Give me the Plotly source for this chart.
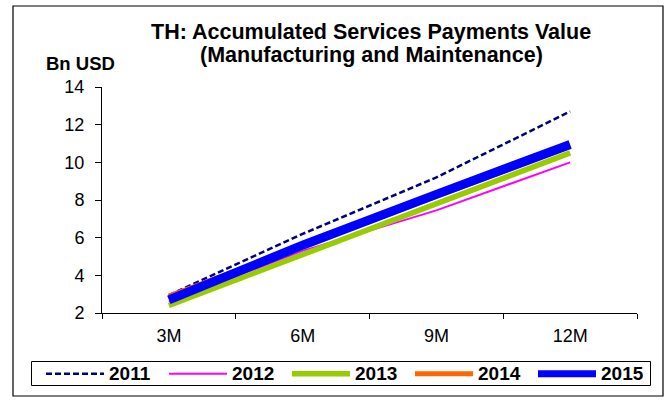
import plotly.graph_objects as go

# Categories and series (Bn USD, accumulated through the year)
periods = ["3M", "6M", "9M", "12M"]
years = ["2011", "2012", "2013", "2014", "2015"]
v2011 = [2.95, 6.2, 9.2, 12.7]
v2012 = [2.6, 5.3, 7.45, 10.0]
v2013 = [2.4, 5.1, 7.75, 10.5]
v2014 = [2.9, 5.55, 8.2, 10.85]
v2015 = [2.7, 5.6, 8.3, 10.95]
y_ticks = [2, 4, 6, 8, 10, 12, 14]
title_lines = ["TH: Accumulated Services Payments Value",
               "(Manufacturing and Maintenance)"]

series = dict(zip(years, [v2011, v2012, v2013, v2014, v2015]))

# Line styles per year
styles = {
    "2011": dict(color="#000080", width=2.5, dash="6px,3px"),
    "2012": dict(color="#FF00FF", width=2, dash="solid"),
    "2013": dict(color="#99CC00", width=5.5, dash="solid"),
    "2014": dict(color="#FF6600", width=5, dash="solid"),
    "2015": dict(color="#0000FF", width=9, dash="solid"),
}

W, H = 669, 403
ML, MR, MT, MB = 102, 32, 87, 90
PW, PH = W - ML - MR, H - MT - MB
FONT = "Liberation Sans, Arial, sans-serif"


def px_x(p):
    return (p - ML) / PW


def px_y(p):
    return (H - MB - p) / PH


fig = go.Figure()
for yr in years:
    fig.add_trace(go.Scatter(
        x=periods, y=series[yr], mode="lines", name=yr,
        line=styles[yr], showlegend=False,
    ))

# Outer frame
fig.add_shape(type="rect", xref="paper", yref="paper",
              x0=px_x(13), x1=px_x(663), y0=px_y(396), y1=px_y(6),
              line=dict(color="black", width=1.2), layer="below")

# Legend box with line samples and labels
fig.add_shape(type="rect", xref="paper", yref="paper",
              x0=px_x(31.5), x1=px_x(650.5), y0=px_y(385.5), y1=px_y(361.5),
              line=dict(color="black", width=1))
ly = px_y(373.7)
for i, yr in enumerate(years):
    x0 = 46 + 123 * i
    st = styles[yr]
    fig.add_shape(type="line", xref="paper", yref="paper",
                  x0=px_x(x0), x1=px_x(x0 + 58), y0=ly, y1=ly,
                  line=dict(color=st["color"], width=min(st["width"], 7),
                            dash=st["dash"]))
    fig.add_annotation(x=px_x(x0 + 61), y=ly, xref="paper", yref="paper",
                       text="<b>%s</b>" % yr, showarrow=False,
                       xanchor="left", yanchor="middle",
                       font=dict(family=FONT, size=19, color="black"))

# Two-line title and unit label
for line_text, cy in zip(title_lines, [32, 55]):
    fig.add_annotation(x=px_x(371), y=px_y(cy), xref="paper", yref="paper",
                       text="<b>%s</b>" % line_text,
                       showarrow=False, xanchor="center", yanchor="middle",
                       font=dict(family=FONT, size=21.5, color="black"))
fig.add_annotation(x=px_x(80), y=px_y(63.5), xref="paper", yref="paper",
                   text="<b>Bn USD</b>", showarrow=False,
                   xanchor="center", yanchor="middle",
                   font=dict(family=FONT, size=18.5, color="black"))

fig.update_layout(
    width=W, height=H,
    margin=dict(l=ML, r=MR, t=MT, b=MB, pad=0),
    paper_bgcolor="white", plot_bgcolor="white",
    font=dict(family=FONT, color="black"),
    showlegend=False,
    xaxis=dict(
        type="category", range=[-0.5, 3.5], tickson="boundaries",
        ticks="outside", ticklen=5, tickcolor="black", tickwidth=1,
        showline=True, linecolor="black", linewidth=1,
        showgrid=False, zeroline=False,
        tickfont=dict(family=FONT, size=18, color="black"),
        ticklabelstandoff=6,
    ),
    yaxis=dict(
        range=[2, 14], tickvals=y_ticks,
        ticks="outside", ticklen=6, tickcolor="black", tickwidth=1,
        showline=True, linecolor="black", linewidth=1,
        showgrid=False, zeroline=False,
        tickfont=dict(family=FONT, size=18, color="black"),
        ticklabelstandoff=7,
    ),
)

fig.write_html("out.html")
